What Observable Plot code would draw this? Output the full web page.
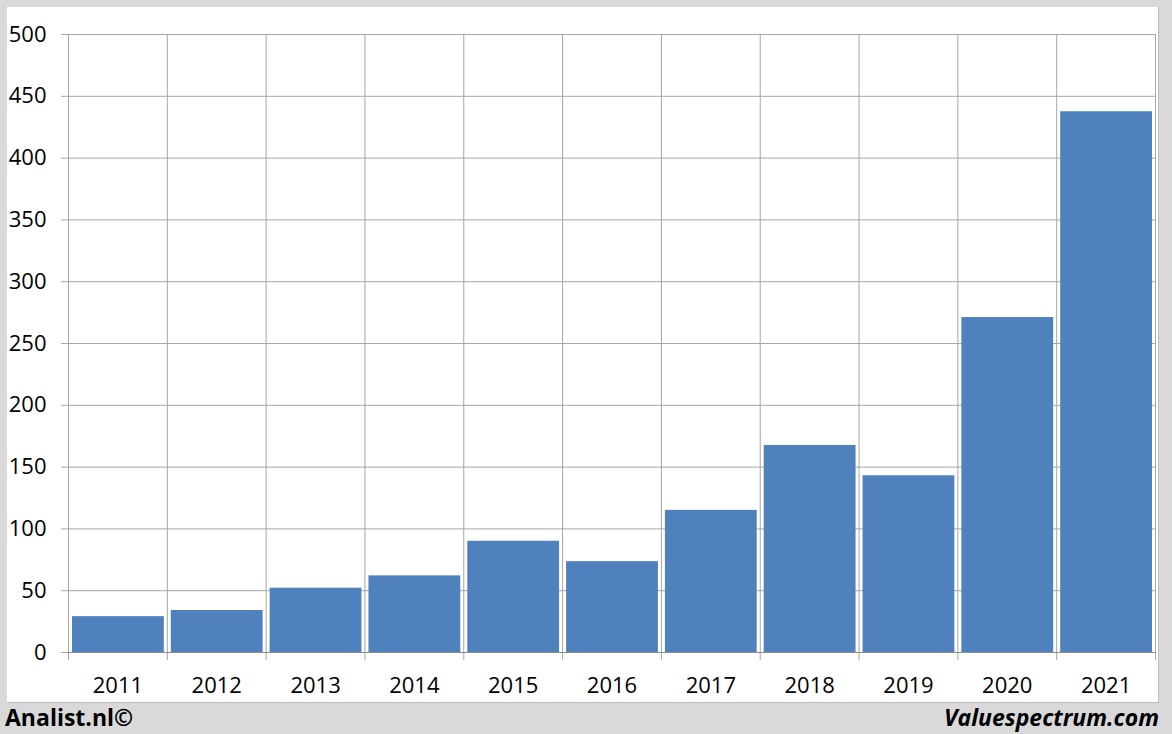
<!DOCTYPE html>
<html>
<head>
<meta charset="utf-8">
<script src="https://cdn.jsdelivr.net/npm/d3@7"></script>
<script src="https://cdn.jsdelivr.net/npm/@observablehq/plot@0.6"></script>
<style>
  html, body { margin: 0; padding: 0; }
  body { width: 1172px; height: 734px; background: #d9d9d9; position: relative; overflow: hidden; font-family: "Open Sans", sans-serif; }
  #panel { position: absolute; left: 7px; top: 7px; width: 1151px; height: 695px; background: #fff; border-right: 1px solid #bdbdbd; border-bottom: 1px solid #bdbdbd; }
  #panel svg { display: block; }
  .foot { position: absolute; top: 702px; font-size: 23px; font-weight: bold; color: #000; line-height: 30px; }
  #left { left: 5px; }
  #right { right: 13px; font-style: italic; }
</style>
</head>
<body>
<div id="panel"></div>
<div class="foot" id="left">Analist.nl©</div>
<div class="foot" id="right">Valuespectrum.com</div>
<script>
const years = [2011, 2012, 2013, 2014, 2015, 2016, 2017, 2018, 2019, 2020, 2021];
const values = [29, 34, 52, 62, 90, 73.5, 115, 167.5, 143, 271, 437.5];
const yTicks = [0, 50, 100, 150, 200, 250, 300, 350, 400, 450, 500];

const data = years.map((y, i) => ({year: y, value: values[i]}));
const boundaries = years.concat([years[years.length - 1] + 1]);

const chart = Plot.plot({
  width: 1151,
  height: 695,
  marginLeft: 61,
  marginRight: 3,
  marginTop: 27,
  marginBottom: 50,
  style: {fontFamily: "Open Sans, sans-serif", fontSize: "22px", color: "#000", background: "#fff", overflow: "visible"},
  x: {domain: [years[0], years[years.length - 1] + 1], axis: null},
  y: {domain: [0, 500], axis: null},
  marks: [
    Plot.ruleY(yTicks, {y: d => d, x1: years[0], x2: years[years.length - 1] + 1, stroke: "#a6a6a6", strokeWidth: 1, insetLeft: -7}),
    Plot.ruleX(boundaries, {x: d => d, y1: 500, y2: 0, stroke: "#a6a6a6", strokeWidth: 1, insetBottom: -8}),
    Plot.rectY(data, {x1: d => d.year, x2: d => d.year + 1, y: "value", fill: "#4f81bd", insetLeft: 4, insetRight: 3}),
    Plot.ruleY([0], {x1: years[0], x2: years[years.length - 1] + 1, stroke: "#8c8c8c", strokeWidth: 1}),
    Plot.text(yTicks, {x: years[0], y: d => d, text: d => String(d), textAnchor: "end", dx: -22, fontSize: 22, fill: "#000"}),
    Plot.text(data, {x: d => d.year + 0.5, y: 0, text: d => String(d.year), dy: 33, fontSize: 22, fill: "#000"})
  ]
});
document.getElementById("panel").appendChild(chart);
</script>
</body>
</html>
